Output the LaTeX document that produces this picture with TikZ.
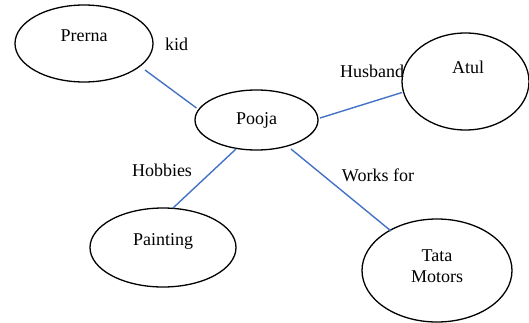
\documentclass[tikz,border=0pt]{standalone}
\usepackage{fontspec}
\setmainfont{Liberation Serif}
\usetikzlibrary{shapes.geometric,calc}
\definecolor{linkblue}{RGB}{68,114,196}
\begin{document}
\begin{tikzpicture}[x=1pt,y=1pt,
  bubble/.style={draw=black,line width=1.3pt,ellipse,inner sep=0pt},
  txt/.style={anchor=base,inner sep=0pt,font=\fontsize{18}{21}\selectfont},
  link/.style={draw=linkblue,line width=1.4pt}]
\useasboundingbox (0,0) rectangle (529,322);
% ellipses
\node[bubble,minimum width=138,minimum height=77] (prerna) at (84,278.5) {};
\node[bubble,minimum width=123,minimum height=60] (pooja) at (256.5,202) {};
\node[bubble,minimum width=127,minimum height=97] (atul) at (465.5,240.5) {};
\node[bubble,minimum width=146,minimum height=79] (painting) at (163,74.5) {};
\node[bubble,minimum width=150,minimum height=103] (tata) at (437,51.5) {};
% texts
\node[txt] (tprerna) at (84,280) {Prerna};
\node[txt] (tpooja) at (256.5,198) {Pooja};
\node[txt] (tatul) at (468,249) {Atul};
\node[txt] (tpainting) at (163,77) {Painting};
\node[txt] (ttata) at (437,61) {Tata};
\node[txt] (tmotors) at (437,40) {Motors};
% labels
\node[txt] (kid) at (176.5,271) {kid};
\node[txt] (husband) at (372,245) {Husband};
\node[txt] (hobbies) at (162,146) {Hobbies};
\node[txt] (works) at (378,141) {Works for};
% connectors
\draw[link] ($(prerna.center)+(61,-26.5)$) -- ($(pooja.center)+(-60,12)$);
\draw[link] ($(pooja.center)+(63.5,2)$) -- ($(atul.center)+(-63.5,-11)$);
\draw[link] ($(pooja.center)+(-20.5,-29)$) -- ($(painting.center)+(10,39.5)$);
\draw[link] ($(pooja.center)+(34.5,-29)$) -- ($(tata.center)+(-46,39.5)$);
\end{tikzpicture}
\end{document}
